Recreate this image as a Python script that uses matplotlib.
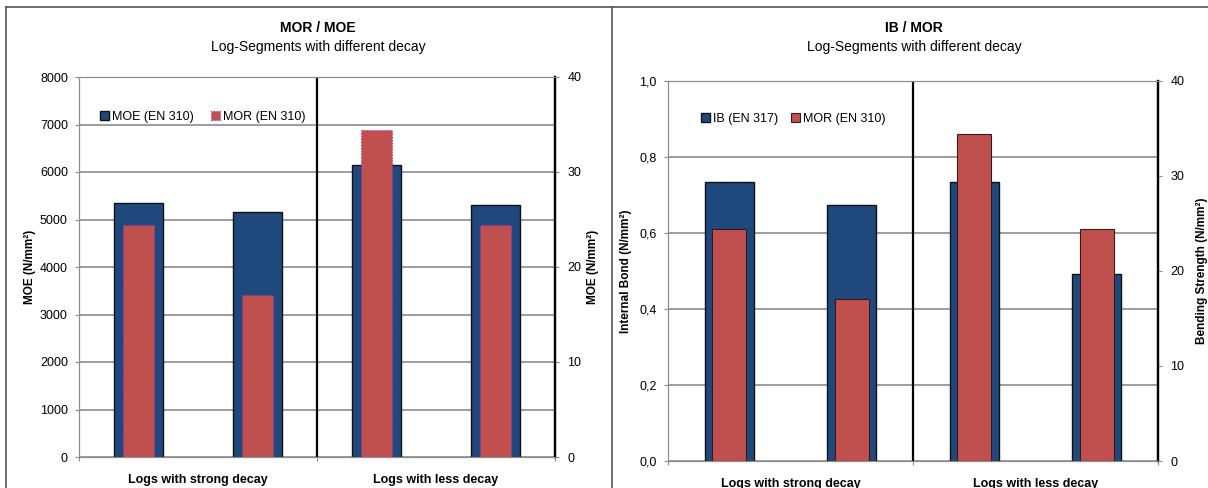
import matplotlib
matplotlib.use("Agg")
import matplotlib.pyplot as plt
from matplotlib.lines import Line2D
from matplotlib.ticker import FuncFormatter

plt.rcParams['font.family'] = ['Liberation Sans', 'DejaVu Sans']
plt.rcParams['font.size'] = 9

# data
positions = [0.5, 1.5, 2.5, 3.5]
groups = ["Logs with strong decay", "Logs with less decay"]
moe = [5350, 5150, 6150, 5300]
mor = [24.4, 17.1, 34.4, 24.4]
ib = [0.733, 0.675, 0.733, 0.493]

blue = '#1F497D'
red = '#C0504D'
grid_c = '#8C8C8C'

fig = plt.figure(figsize=(12.08, 4.88), dpi=100)

# panel frames
for l in [Line2D([6/1208, 1], [1-7/488, 1-7/488]),
          Line2D([6/1208, 6/1208], [0, 1-7/488]),
          Line2D([612/1208, 612/1208], [0, 1-7/488])]:
    l.set_transform(fig.transFigure)
    l.set_color('#555555')
    l.set_linewidth(1.2)
    fig.add_artist(l)


def style(ax, ax2, ymax, ystep, y2max):
    ax.set_xlim(0, 4)
    ax.set_ylim(0, ymax)
    ax2.set_ylim(0, y2max)
    ax.set_yticks([i * ystep for i in range(int(round(ymax / ystep)) + 1)])
    ax2.set_yticks([0, 10, 20, 30, 40])
    ax.yaxis.grid(True, color=grid_c, lw=1.2)
    ax.set_axisbelow(True)
    ax.set_xticks([0, 2, 4])
    ax.set_xticklabels([])
    ax.set_xticks([1, 3], minor=True)
    ax.set_xticklabels(groups, minor=True, fontweight='bold')
    ax.tick_params(axis='x', which='minor', length=0, pad=12)
    ax.tick_params(axis='x', which='major', length=3, color=grid_c)
    ax.tick_params(axis='y', length=3, color=grid_c, direction='out', pad=5)
    ax2.tick_params(axis='y', length=3, color=grid_c, direction='out', pad=6)
    ax.axvline(2, color='black', lw=1.6, zorder=1)
    for a in (ax, ax2):
        a.spines['left'].set_color(grid_c)
        a.spines['bottom'].set_color(grid_c)
        a.spines['top'].set_color(grid_c)
        a.spines['right'].set_color('black')
        a.spines['right'].set_linewidth(1.6)


# left chart: MOR / MOE
ax = fig.add_axes([79/1208, 1-457/488, 476/1208, 380/488])
ax2 = ax.twinx()
ax.bar(positions, moe, width=0.41, color=blue, edgecolor='#111111', lw=1, label='MOE (EN 310)')
ax2.bar(positions, mor, width=0.26, color=red, edgecolor='#A030C0', lw=0.8, ls=':', label='MOR (EN 310)')
style(ax, ax2, 8000, 1000, 40)
ax.set_ylabel('MOE (N/mm²)', fontweight='bold', fontsize=8.5)
ax2.set_ylabel('MOE (N/mm²)', fontweight='bold', fontsize=8.5)
ax.yaxis.set_label_coords(-0.0903, 0.5)
ax2.yaxis.set_label_coords(1.0672, 0.5)
h1, l1 = ax.get_legend_handles_labels()
h2, l2 = ax2.get_legend_handles_labels()
ax2.legend(h1 + h2, l1 + l2, loc='center left', bbox_to_anchor=(0.02, 0.895), ncol=2,
           frameon=False, handlelength=0.7, handleheight=0.7, handletextpad=0.25,
           columnspacing=1.4, fontsize=9)
fig.text(318/1208, 1-28/488, 'MOR / MOE', ha='center', va='center', fontweight='bold', fontsize=10)
fig.text(318/1208, 1-47/488, 'Log-Segments with different decay', ha='center', va='center', fontsize=10)

# right chart: IB / MOR
bx = fig.add_axes([668/1208, 1-461/488, 490/1208, 380/488])
bx2 = bx.twinx()
bx.bar(positions, ib, width=0.40, color=blue, edgecolor='#111111', lw=1, label='IB (EN 317)')
bx2.bar(positions, mor, width=0.28, color=red, edgecolor='#3a1a1a', lw=0.8, label='MOR (EN 310)')
style(bx, bx2, 1.0, 0.2, 40)
bx.yaxis.set_major_formatter(FuncFormatter(lambda v, p: f"{v:.1f}".replace('.', ',')))
bx.set_ylabel('Internal Bond (N/mm²)', fontweight='bold', fontsize=8.5)
bx2.set_ylabel('Bending Strength (N/mm²)', fontweight='bold', fontsize=8.5)
bx.yaxis.set_label_coords(-0.0735, 0.5)
bx2.yaxis.set_label_coords(1.0776, 0.5)
h1, l1 = bx.get_legend_handles_labels()
h2, l2 = bx2.get_legend_handles_labels()
bx2.legend(h1 + h2, l1 + l2, loc='center left', bbox_to_anchor=(0.045, 0.90), ncol=2,
           frameon=False, handlelength=0.7, handleheight=0.7, handletextpad=0.25,
           columnspacing=1.0, fontsize=9)
fig.text(914/1208, 1-28/488, 'IB / MOR', ha='center', va='center', fontweight='bold', fontsize=10)
fig.text(914/1208, 1-47/488, 'Log-Segments with different decay', ha='center', va='center', fontsize=10)

fig.savefig('out.png', dpi=100)
